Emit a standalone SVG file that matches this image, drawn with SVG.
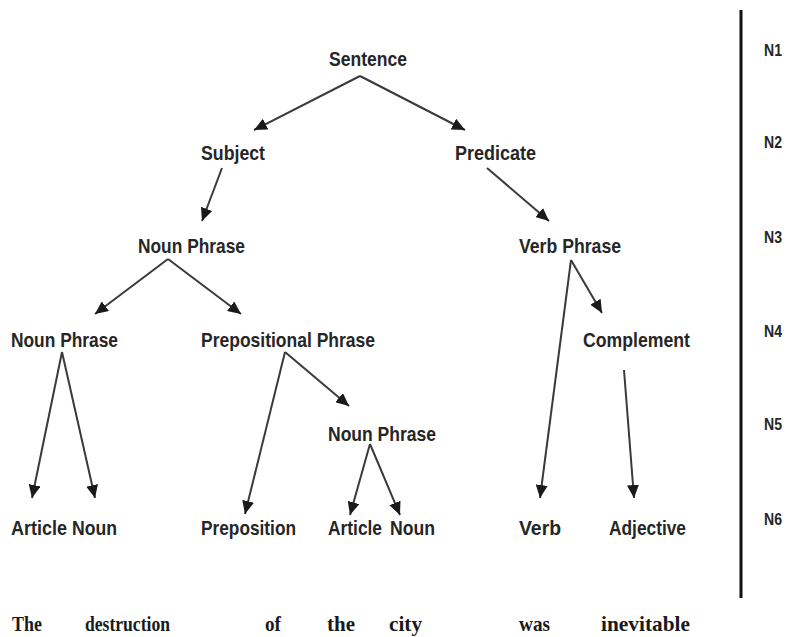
<svg xmlns="http://www.w3.org/2000/svg" width="786" height="637" viewBox="0 0 786 637">
<style>
.n{font-family:"Liberation Sans",Arial,sans-serif;font-weight:bold;font-size:21px;fill:#262626}
.w{font-family:"Liberation Serif","Times New Roman",serif;font-weight:bold;font-size:22px;fill:#1a1a1a}
.lv{font-family:"Liberation Sans",Arial,sans-serif;font-weight:bold;font-size:17px;fill:#262626}
.c line{stroke:#3a3a3a;stroke-width:2;marker-end:url(#ah)}
</style>
<defs>
<marker id="ah" markerUnits="userSpaceOnUse" markerWidth="14" markerHeight="12" viewBox="0 0 14 12" refX="13" refY="6" orient="auto">
<path d="M0,0 L13,6 L0,12 Z" fill="#1a1a1a"/>
</marker>
</defs>
<rect width="786" height="637" fill="#fff"/>
<g id="connectors" class="c">
<line x1="360" y1="76" x2="254" y2="130"/>
<line x1="360" y1="76" x2="465" y2="130"/>
<line x1="222" y1="168" x2="202" y2="221"/>
<line x1="487" y1="168" x2="549" y2="221"/>
<line x1="168" y1="259" x2="95" y2="314"/>
<line x1="168" y1="259" x2="241" y2="314"/>
<line x1="62" y1="352" x2="32" y2="498"/>
<line x1="62" y1="352" x2="95" y2="498"/>
<line x1="285" y1="352" x2="245" y2="514"/>
<line x1="285" y1="352" x2="349" y2="406"/>
<line x1="370" y1="444" x2="350" y2="515"/>
<line x1="370" y1="444" x2="400" y2="515"/>
<line x1="571" y1="260" x2="540" y2="498"/>
<line x1="571" y1="260" x2="602" y2="313"/>
<line x1="624" y1="370" x2="634" y2="498"/>
</g>
<line id="divider" x1="741" y1="10" x2="741" y2="598" stroke="#111" stroke-width="3"/>
<g id="sentence"><text class="n" x="329" y="66" textLength="78" lengthAdjust="spacingAndGlyphs">Sentence</text></g>
<g id="subject"><text class="n" x="201" y="160" textLength="64" lengthAdjust="spacingAndGlyphs">Subject</text></g>
<g id="predicate"><text class="n" x="455" y="160" textLength="81" lengthAdjust="spacingAndGlyphs">Predicate</text></g>
<g id="np1"><text class="n" x="138" y="253" textLength="107" lengthAdjust="spacingAndGlyphs">Noun Phrase</text></g>
<g id="vp"><text class="n" x="519" y="253" textLength="102" lengthAdjust="spacingAndGlyphs">Verb Phrase</text></g>
<g id="np2"><text class="n" x="11" y="347" textLength="107" lengthAdjust="spacingAndGlyphs">Noun Phrase</text></g>
<g id="pp"><text class="n" x="201" y="347" textLength="174" lengthAdjust="spacingAndGlyphs">Prepositional Phrase</text></g>
<g id="complement"><text class="n" x="583" y="347" textLength="107" lengthAdjust="spacingAndGlyphs">Complement</text></g>
<g id="np3"><text class="n" x="328" y="441" textLength="108" lengthAdjust="spacingAndGlyphs">Noun Phrase</text></g>
<g id="article1"><text class="n" x="11" y="535" textLength="56" lengthAdjust="spacingAndGlyphs">Article</text></g>
<g id="noun1"><text class="n" x="72" y="535" textLength="45" lengthAdjust="spacingAndGlyphs">Noun</text></g>
<g id="preposition"><text class="n" x="201" y="535" textLength="95" lengthAdjust="spacingAndGlyphs">Preposition</text></g>
<g id="article2"><text class="n" x="328" y="535" textLength="54" lengthAdjust="spacingAndGlyphs">Article</text></g>
<g id="noun2"><text class="n" x="390" y="535" textLength="45" lengthAdjust="spacingAndGlyphs">Noun</text></g>
<g id="verb"><text class="n" x="519" y="535" textLength="42" lengthAdjust="spacingAndGlyphs">Verb</text></g>
<g id="adjective"><text class="n" x="609" y="535" textLength="77" lengthAdjust="spacingAndGlyphs">Adjective</text></g>
<g id="words">
<text class="w" x="12" y="631" textLength="30" lengthAdjust="spacingAndGlyphs">The</text>
<text class="w" x="85" y="631" textLength="85" lengthAdjust="spacingAndGlyphs">destruction</text>
<text class="w" x="265" y="631" textLength="16" lengthAdjust="spacingAndGlyphs">of</text>
<text class="w" x="327" y="631" textLength="28" lengthAdjust="spacingAndGlyphs">the</text>
<text class="w" x="389" y="631" textLength="33" lengthAdjust="spacingAndGlyphs">city</text>
<text class="w" x="519" y="631" textLength="31" lengthAdjust="spacingAndGlyphs">was</text>
<text class="w" x="601" y="631" textLength="89" lengthAdjust="spacingAndGlyphs">inevitable</text>
</g>
<g id="levels">
<text class="lv" x="764" y="56" textLength="18" lengthAdjust="spacingAndGlyphs">N1</text>
<text class="lv" x="764" y="148" textLength="18" lengthAdjust="spacingAndGlyphs">N2</text>
<text class="lv" x="764" y="243" textLength="18" lengthAdjust="spacingAndGlyphs">N3</text>
<text class="lv" x="764" y="337" textLength="18" lengthAdjust="spacingAndGlyphs">N4</text>
<text class="lv" x="764" y="430" textLength="18" lengthAdjust="spacingAndGlyphs">N5</text>
<text class="lv" x="764" y="525" textLength="18" lengthAdjust="spacingAndGlyphs">N6</text>
</g>
</svg>
